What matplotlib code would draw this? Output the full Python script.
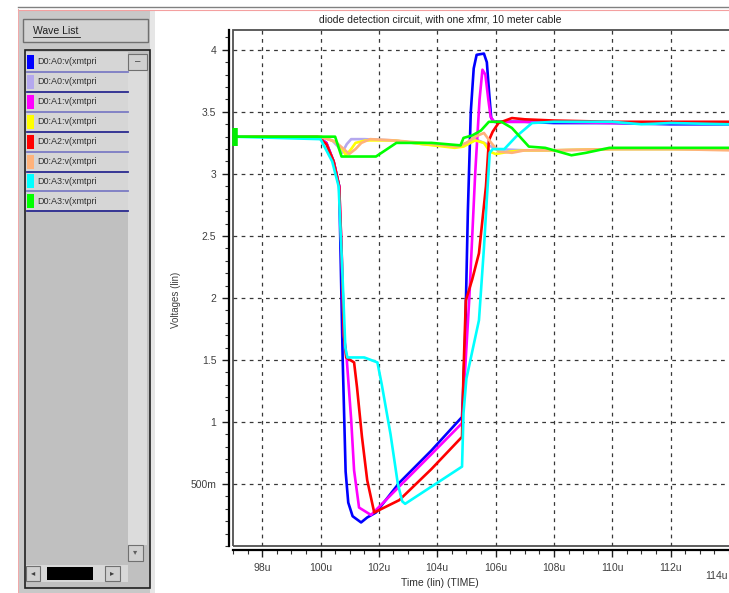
import matplotlib.pyplot as plt
from matplotlib.patches import Rectangle
from matplotlib.ticker import MultipleLocator, FixedLocator

plt.rcParams['font.family'] = ['Liberation Sans', 'DejaVu Sans']

# wave list
labels = ['D0:A0:v(xmtpri', 'D0:A0:v(xmtpri', 'D0:A1:v(xmtpri', 'D0:A1:v(xmtpri',
          'D0:A2:v(xmtpri', 'D0:A2:v(xmtpri', 'D0:A3:v(xmtpri', 'D0:A3:v(xmtpri']
colors = ['#0000ff', '#b4a8ee', '#ff00ff', '#ffff00',
          '#ff0000', '#ffb27a', '#00ffff', '#00ff00']

# time in us, volts
t_a0 = [97, 99.9, 100.2, 100.45, 100.64, 100.7, 100.76, 100.86, 100.95, 101.1, 101.39, 101.6,
        101.9, 102.7, 103.8, 104.85, 104.95, 105.05, 105.15, 105.25, 105.35, 105.6, 105.7,
        105.78, 105.85, 105.95, 106.3, 107, 108, 110, 112, 114]
v_a0 = [3.30, 3.30, 3.25, 3.10, 2.90, 2.20, 1.50, 0.60, 0.35, 0.24, 0.19, 0.23,
        0.27, 0.51, 0.77, 1.04, 1.60, 2.70, 3.50, 3.85, 3.96, 3.97, 3.90,
        3.65, 3.45, 3.42, 3.42, 3.42, 3.41, 3.41, 3.40, 3.40]

t_a0b = [97, 100.0, 100.4, 100.6, 100.74, 100.9, 101.05, 101.5, 102.5, 103.5, 104.6, 104.9,
         105.3, 105.7, 106.0, 107, 108, 110, 112, 114]
v_a0b = [3.30, 3.30, 3.27, 3.22, 3.17, 3.24, 3.28, 3.28, 3.27, 3.24, 3.22, 3.24,
         3.28, 3.24, 3.20, 3.19, 3.19, 3.20, 3.20, 3.20]

t_a1 = [97, 99.9, 100.2, 100.45, 100.64, 100.72, 100.8, 100.9, 101.05, 101.15, 101.32, 101.73,
        102.7, 103.8, 104.85, 104.9, 105.1, 105.3, 105.45, 105.55, 105.65, 105.75, 105.83,
        105.95, 106.5, 108, 110, 112, 114]
v_a1 = [3.30, 3.30, 3.25, 3.10, 2.90, 2.40, 1.70, 1.50, 1.02, 0.61, 0.31, 0.25,
        0.48, 0.74, 0.99, 1.20, 2.00, 3.00, 3.60, 3.84, 3.80, 3.60, 3.46,
        3.42, 3.42, 3.42, 3.41, 3.41, 3.41]

t_a1b = [97, 100.0, 100.5, 100.75, 100.87, 101.05, 101.2, 101.56, 102.5, 103.5, 104.6, 104.9,
         105.3, 105.6, 105.8, 106.0, 106.5, 107, 108, 110, 114]
v_a1b = [3.30, 3.30, 3.26, 3.20, 3.15, 3.20, 3.25, 3.27, 3.27, 3.24, 3.21, 3.22,
         3.27, 3.25, 3.18, 3.16, 3.18, 3.19, 3.19, 3.20, 3.20]

t_a2 = [97, 99.9, 100.2, 100.45, 100.64, 100.72, 100.8, 100.88, 101.15, 101.25, 101.42, 101.6,
        101.84, 102.7, 103.8, 104.85, 104.9, 104.98, 105.2, 105.43, 105.67, 105.77, 105.9,
        106.1, 106.56, 107, 108, 110, 112, 114]
v_a2 = [3.30, 3.30, 3.24, 3.10, 2.90, 2.40, 1.70, 1.52, 1.48, 1.28, 0.88, 0.53,
        0.27, 0.37, 0.62, 0.88, 1.40, 1.98, 2.15, 2.36, 2.90, 3.27, 3.34,
        3.41, 3.45, 3.44, 3.43, 3.42, 3.42, 3.42]

t_a2b = [97, 100.0, 100.5, 100.8, 100.98, 101.2, 101.4, 101.7, 102.5, 103.5, 104.7, 105.0,
         105.3, 105.6, 105.85, 106.1, 106.56, 107, 108, 110, 112, 114]
v_a2b = [3.30, 3.30, 3.26, 3.20, 3.16, 3.20, 3.25, 3.28, 3.27, 3.25, 3.22, 3.25,
         3.30, 3.33, 3.25, 3.18, 3.17, 3.19, 3.19, 3.20, 3.20, 3.19]

t_a3 = [97, 100.0, 100.4, 100.62, 100.75, 100.85, 100.92, 101.5, 101.95, 102.1, 102.4, 102.65,
        102.8, 102.9, 104.85, 104.9, 105.0, 105.43, 105.6, 105.7, 105.8, 105.9, 106.3,
        106.7, 107.25, 108, 110, 111, 112, 114]
v_a3 = [3.30, 3.28, 3.10, 2.90, 2.20, 1.60, 1.52, 1.52, 1.48, 1.30, 0.90, 0.50,
        0.36, 0.34, 0.64, 1.07, 1.35, 1.82, 2.40, 2.80, 3.17, 3.20, 3.20,
        3.30, 3.41, 3.42, 3.42, 3.40, 3.41, 3.40]

t_a3b = [97, 100.5, 100.72, 101.9, 102.6, 103.8, 104.8, 104.9, 105.2, 105.5, 105.77, 106.2,
         106.56, 107.14, 107.7, 108.6, 109.1, 109.9, 114]
v_a3b = [3.30, 3.30, 3.14, 3.14, 3.25, 3.25, 3.23, 3.29, 3.31, 3.35, 3.42, 3.42,
         3.37, 3.22, 3.21, 3.15, 3.17, 3.21, 3.21]

traces = [(t_a0, v_a0), (t_a0b, v_a0b), (t_a1, v_a1), (t_a1b, v_a1b),
          (t_a2, v_a2), (t_a2b, v_a2b), (t_a3, v_a3), (t_a3b, v_a3b)]

y_ticks = [0.5, 1, 1.5, 2, 2.5, 3, 3.5, 4]
y_ticklabels = ['500m', '1', '1.5', '2', '2.5', '3', '3.5', '4']
x_ticks = [98, 100, 102, 104, 106, 108, 110, 112]
x_ticklabels = ['98u', '100u', '102u', '104u', '106u', '108u', '110u', '112u']

W, H = 729, 593
fig = plt.figure(figsize=(W / 100, H / 100), dpi=100)

# window chrome + wave list panel, drawn in pixel units
bg = fig.add_axes([0, 0, 1, 1])
bg.set_xlim(0, W)
bg.set_ylim(H, 0)
bg.axis('off')
bg.plot([18, W], [7, 7], color='#808080', lw=1)
bg.plot([18, W], [9.5, 9.5], color='#f4a0a0', lw=0.8)
bg.add_patch(Rectangle((19, 10), 136, H - 10, fc='#c8c8c8', ec='none'))
bg.plot([18.5, 18.5], [9, H], color='#f0a8a8', lw=0.7)
bg.add_patch(Rectangle((150, 10), 5, H - 10, fc='#e6e6e6', ec='none'))
bg.add_patch(Rectangle((23, 19), 125, 23, fc='#d2d2d2', ec='#707070', lw=1))
bg.text(33, 31, 'Wave List', fontsize=7.5, color='#202020', va='center')
bg.plot([33, 80], [37, 37], color='#202020', lw=0.6)
bg.add_patch(Rectangle((25, 50), 125, 538, fc='#c0c0c0', ec='#202020', lw=1.2))
bg.add_patch(Rectangle((26, 52), 102, 158, fc='#d6d6d6', ec='none'))
for i, (lab, col) in enumerate(zip(labels, colors)):
    cy = 62 + 19.9 * i
    bg.add_patch(Rectangle((27, cy - 7), 7, 14, fc=col, ec='none'))
    bg.text(37, cy, lab, fontsize=6.5, color='#303030', va='center')
    bg.plot([27, 128], [cy + 10, cy + 10], color='#2a2a90' if i % 2 else '#7c7cc4', lw=1.3)
bg.add_patch(Rectangle((128, 70), 19, 475, fc='#dcdcdc', ec='none'))
bg.add_patch(Rectangle((128, 54), 19, 16, fc='#d0d0d0', ec='#707070', lw=0.8))
bg.text(137.5, 61, '\u2013', fontsize=7, ha='center', va='center', color='#404040')
bg.add_patch(Rectangle((128, 545), 15, 16, fc='#d0d0d0', ec='#707070', lw=0.8))
bg.text(135.5, 553, '\u25be', fontsize=6, ha='center', va='center', color='#606060')
bg.add_patch(Rectangle((26, 565), 102, 17, fc='#d8d8d8', ec='none'))
bg.add_patch(Rectangle((26, 566), 14, 15, fc='#d0d0d0', ec='#707070', lw=0.8))
bg.text(33, 573.5, '\u25c2', fontsize=6, ha='center', va='center', color='#404040')
bg.add_patch(Rectangle((47, 567), 46, 13, fc='#000000', ec='none'))
bg.add_patch(Rectangle((105, 566), 15, 15, fc='#d0d0d0', ec='#707070', lw=0.8))
bg.text(112.5, 573.5, '\u25b8', fontsize=6, ha='center', va='center', color='#404040')

# plot area
x0, x1, y0, y1 = 233, W, 30, 546
ax = fig.add_axes([x0 / W, 1 - y1 / H, (x1 - x0) / W, (y1 - y0) / H])
ax.set_facecolor('none')
for (t, v), col in zip(traces, colors):
    ax.plot(t, v, color=col, lw=1.9, solid_joinstyle='round', clip_on=True)
ax.plot([97.07], [3.30], marker='|', ms=13, mew=4, color='#00ee00', clip_on=False)

ax.set_xlim(97, 114)
ax.set_ylim(0, 4.16)
ax.xaxis.set_major_locator(FixedLocator(x_ticks))
ax.set_xticklabels(x_ticklabels)
ax.xaxis.set_minor_locator(MultipleLocator(0.5))
ax.yaxis.set_major_locator(FixedLocator(y_ticks))
ax.set_yticklabels(y_ticklabels)
ax.yaxis.set_minor_locator(MultipleLocator(0.1))
ax.grid(True, which='major', color='#383838', lw=0.9, ls=(0, (3, 3.5)))
ax.tick_params(which='major', direction='out', length=5, width=1, colors='#202020',
               labelsize=7.5, labelcolor='#404040', pad=4)
ax.tick_params(which='minor', direction='out', length=3, width=0.8, colors='#303030')

for side in ['right', 'top']:
    ax.spines[side].set_visible(False)
ax.spines['left'].set_position(('outward', 3))
ax.spines['bottom'].set_position(('outward', 3))
ax.spines['left'].set_linewidth(1.6)
ax.spines['bottom'].set_linewidth(1.6)
ax.add_patch(Rectangle((0, 0), 1.01, 1, transform=ax.transAxes, fill=False,
                       ec='#505050', lw=1.3, clip_on=False))

fig.text(440 / W, 1 - 20 / H, 'diode detection circuit, with one xfmr, 10 meter cable',
         ha='center', va='center', fontsize=7.5, color='#202020')
fig.text(440 / W, 1 - 583 / H, 'Time (lin) (TIME)', ha='center', va='center',
         fontsize=7.5, color='#303030')
fig.text(176 / W, 1 - 300 / H, 'Voltages (lin)', ha='center', va='center',
         rotation=90, fontsize=7, color='#404040')
fig.text(716 / W, 1 - 576 / H, '114u', ha='center', va='center', fontsize=7.5,
         color='#404040')

fig.savefig('out.png', dpi=100)
